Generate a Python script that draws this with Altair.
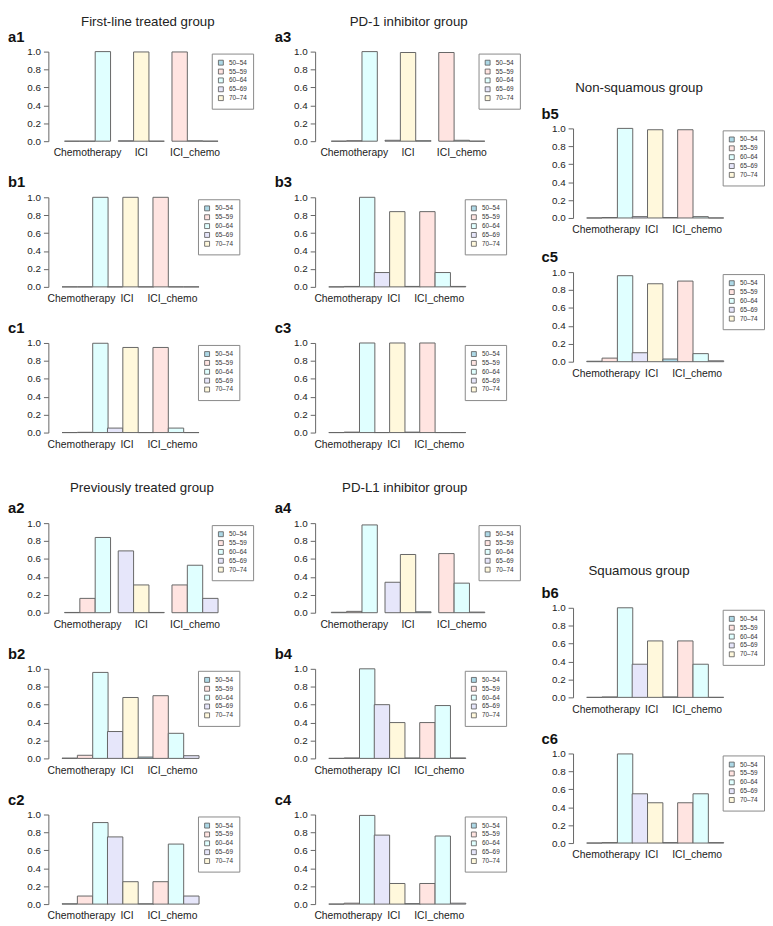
import altair as alt
import pandas as pd

groups = ["Chemotherapy", "ICI", "ICI_chemo"]
age_groups = ["50–54", "55–59", "60–64", "65–69", "70–74"]
age_colors = ["lightblue", "mistyrose", "lightcyan", "lavender", "cornsilk"]

# one row per treatment group, three bars each
a1 = [[0.0, 0.0, 1.0], [0.004, 0.996, 0.0], [0.996, 0.004, 0.0]]
b1 = [[0.0, 0.0, 1.0], [0.0, 1.0, 0.0], [1.0, 0.0, 0.0]]
c1 = [[0.0, 0.003, 0.997], [0.05, 0.95, 0.0], [0.95, 0.05, 0.0]]
a2 = [[0.003, 0.16, 0.84], [0.69, 0.31, 0.003], [0.31, 0.53, 0.16]]
b2 = [[0.003, 0.035, 0.96], [0.30, 0.68, 0.015], [0.70, 0.28, 0.03]]
c2 = [[0.003, 0.09, 0.91], [0.75, 0.25, 0.003], [0.25, 0.67, 0.09]]
a3 = [[0.0, 0.005, 1.0], [0.01, 0.99, 0.005], [0.99, 0.01, 0.0]]
b3 = [[0.0, 0.005, 1.0], [0.16, 0.84, 0.005], [0.84, 0.16, 0.005]]
c3 = [[0.0, 0.005, 1.0], [0.0, 1.0, 0.005], [1.0, 0.0, 0.0]]
a4 = [[0.005, 0.015, 0.98], [0.34, 0.65, 0.01], [0.66, 0.33, 0.007]]
b4 = [[0.0, 0.005, 1.0], [0.60, 0.40, 0.005], [0.40, 0.59, 0.005]]
c4 = [[0.0, 0.01, 0.99], [0.77, 0.23, 0.005], [0.23, 0.76, 0.01]]
b5 = [[0.0, 0.005, 1.0], [0.015, 0.985, 0.005], [0.985, 0.015, 0.0]]
c5 = [[0.005, 0.04, 0.96], [0.10, 0.87, 0.03], [0.90, 0.09, 0.01]]
b6 = [[0.0, 0.005, 1.0], [0.37, 0.63, 0.005], [0.63, 0.37, 0.0]]
c6 = [[0.0, 0.005, 0.995], [0.55, 0.45, 0.005], [0.45, 0.55, 0.005]]

FONT = "Liberation Sans"
PLOT_H = 91


def panel(label, vals, wide, title=None, title_x=100, title_y=-28, label_x=-41):
    rows = []
    for gi, g in enumerate(groups):
        for j in range(3):
            k = gi * 3 + j
            rows.append({"group": g, "slot": j, "age": age_groups[k % 5],
                         "value": vals[gi][j]})
    df = pd.DataFrame(rows)
    bw = 15.6 if wide else 13.2
    step = 3.5 * bw
    width = step * (3 - 1 / 7 + 0.6)
    legend_x = 166 if wide else 152
    bars = alt.Chart(df).mark_bar(stroke="#666", strokeWidth=1).encode(
        x=alt.X("group:N", sort=groups,
                scale=alt.Scale(paddingInner=1 / 7, paddingOuter=0.3),
                axis=alt.Axis(title=None, labelAngle=0, ticks=False, domain=False,
                              labelPadding=7, labelFontSize=10.5, labelFont=FONT,
                              labelColor="#222")),
        xOffset=alt.XOffset("slot:O", scale=alt.Scale(paddingInner=0, paddingOuter=0)),
        y=alt.Y("value:Q", scale=alt.Scale(domain=[0, 1], nice=False),
                axis=alt.Axis(values=[0, 0.2, 0.4, 0.6, 0.8, 1.0], format=".1f",
                              title=None, grid=False, tickSize=5, labelPadding=3,
                              labelFontSize=10, labelFont=FONT, labelColor="#222",
                              domainColor="#666", tickColor="#666")),
        color=alt.Color("age:N",
                        scale=alt.Scale(domain=age_groups, range=age_colors),
                        legend=alt.Legend(title=None, orient="none", legendX=legend_x,
                                          legendY=2, direction="vertical",
                                          symbolType="square", symbolSize=25,
                                          symbolStrokeColor="#555", symbolStrokeWidth=0.8,
                                          labelFontSize=6.5, labelFont=FONT,
                                          labelColor="#333", rowPadding=0,
                                          padding=6, strokeColor="#888",
                                          fillColor="white", labelOffset=5)),
    )
    lab = alt.Chart(pd.DataFrame({"t": [label]})).mark_text(
        font=FONT, fontSize=15, fontWeight="bold", color="#111",
        align="left", baseline="alphabetic",
    ).encode(text="t:N", x=alt.value(label_x), y=alt.value(-10))
    layers = [bars, lab]
    if title:
        ttl = alt.Chart(pd.DataFrame({"t": [title]})).mark_text(
            font=FONT, fontSize=13.5, color="#222",
            align="center", baseline="alphabetic",
        ).encode(text="t:N", x=alt.value(title_x), y=alt.value(title_y))
        layers.append(ttl)
    return alt.layer(*layers).properties(width=width, height=PLOT_H)


def gap(h):
    return alt.Chart(pd.DataFrame({"v": [0]})).mark_point(opacity=0).encode(
        x=alt.value(0), y=alt.value(0)).properties(width=1, height=h)


def column(*charts):
    return alt.vconcat(*charts, spacing=0, bounds="flush").resolve_scale(
        color="independent")


col1 = column(
    panel("a1", a1, True, "First-line treated group", 101, -26), gap(57),
    panel("b1", b1, False), gap(57),
    panel("c1", c1, False), gap(92),
    panel("a2", a2, True, "Previously treated group", 95, -32), gap(57),
    panel("b2", b2, False), gap(57),
    panel("c2", c2, False),
)

col2 = column(
    panel("a3", a3, True, "PD-1 inhibitor group", 95, -26), gap(57),
    panel("b3", b3, False), gap(57),
    panel("c3", c3, False), gap(92),
    panel("a4", a4, True, "PD-L1 inhibitor group", 91, -32), gap(57),
    panel("b4", b4, False), gap(57),
    panel("c4", c4, False),
)

col3 = column(
    gap(78),
    panel("b5", b5, False, "Non-squamous group", 67, -37, label_x=-32), gap(55),
    panel("c5", c5, False, label_x=-32), gap(250),
    panel("b6", b6, False, "Squamous group", 67, -33, label_x=-32), gap(57),
    panel("c6", c6, False, label_x=-32),
)

chart = alt.hconcat(col1, col2, col3, spacing=21).resolve_scale(
    color="independent"
).properties(padding=0).configure_view(stroke=None)

chart.save("out.html", embed_options={"renderer": "svg", "actions": False})
